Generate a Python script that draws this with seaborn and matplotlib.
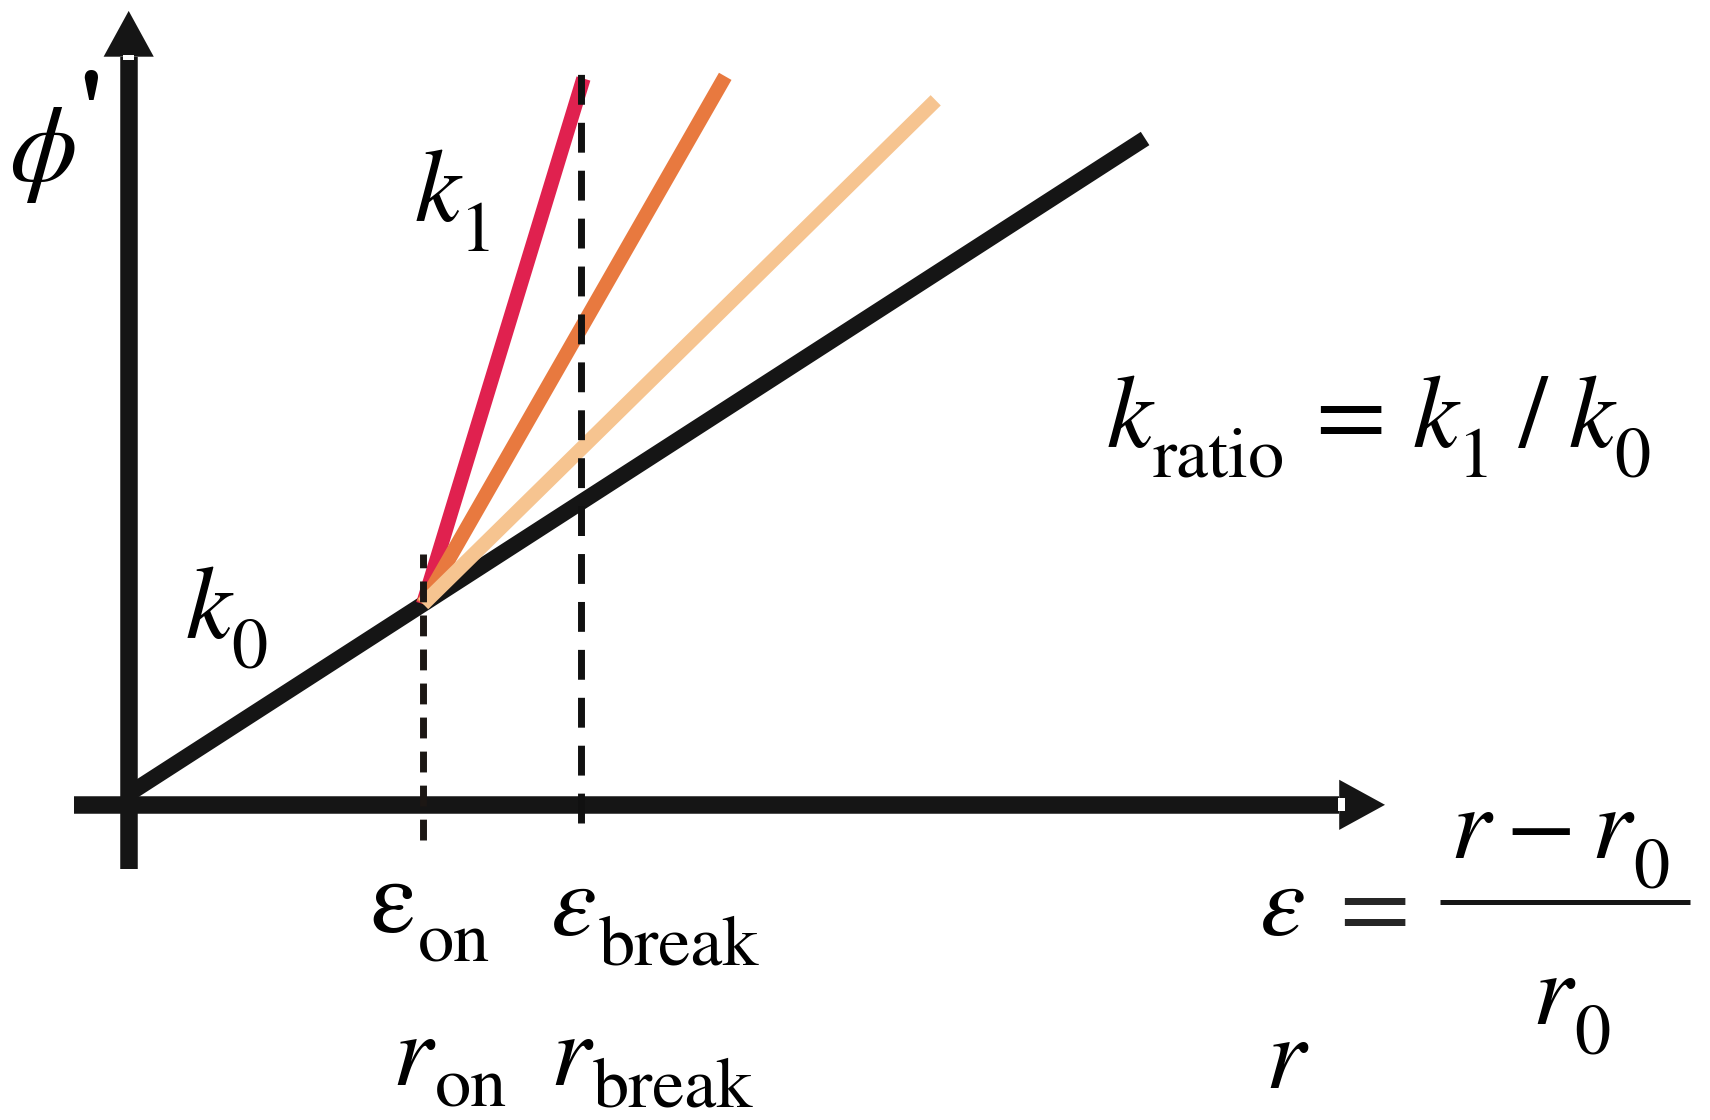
import numpy as np
import pandas as pd
import matplotlib
matplotlib.use("Agg")
import matplotlib.pyplot as plt
import seaborn as sns
from matplotlib.patches import Polygon, Rectangle

# Characteristic strains
eps_on = 2.70
eps_break = 4.15

# Baseline response with slope k0
base_x = [0.0, 9.32]
base_y = [0.10, 6.11]

# Stiffened branches (slope k1) leaving the baseline at eps_on
branch_names = ["high", "mid", "low"]
branch_end_x = [4.17, 5.47, 7.40]
branch_end_y = [6.66, 6.68, 6.46]
branch_colors = ["#e0214f", "#e8793f", "#f6c490"]

# Extent of the vertical guide lines
on_guide_y = [-0.32, 2.30]
break_guide_y = [-0.17, 6.70]

# Axis extents
x_axis = [-0.50, 11.52]
y_axis = [-0.59, 7.28]

INK = "#151515"
SERIF = "STIXGeneral"

sns.set_theme(style="white")
plt.rcParams["font.family"] = [SERIF, "DejaVu Serif"]

fig = plt.figure(figsize=(17.1, 11.2), dpi=100)
ax = fig.add_axes([0, 0, 1, 1])
ax.set_xlim(-1.18, 14.50)
ax.set_ylim(-2.89, 7.38)
ax.axis("off")
renderer = fig.canvas.get_renderer()

# --- axes with arrow heads ---
head_len = 0.42
head_half = 0.23
ax.plot([x_axis[0], x_axis[1] - head_len], [0, 0], color=INK, lw=12.6,
        solid_capstyle="butt", zorder=2)
ax.plot([0, 0], [y_axis[0], y_axis[1] - head_len], color=INK, lw=12.6,
        solid_capstyle="butt", zorder=2)
ax.add_patch(Polygon([[x_axis[1], 0], [x_axis[1] - head_len, head_half],
                      [x_axis[1] - head_len, -head_half]],
                     closed=True, color=INK, lw=0, zorder=2))
ax.add_patch(Polygon([[0, y_axis[1]], [-head_half, y_axis[1] - head_len],
                      [head_half, y_axis[1] - head_len]],
                     closed=True, color=INK, lw=0, zorder=2))
# small light notches where shaft meets head
ax.add_patch(Rectangle((x_axis[1] - head_len - 0.01, -0.06), 0.06, 0.12,
                       color="white", lw=0, zorder=3))
ax.add_patch(Rectangle((-0.05, y_axis[1] - head_len - 0.03), 0.10, 0.05,
                       color="white", lw=0, zorder=3))

# --- baseline k0 ---
base_df = pd.DataFrame({"strain": base_x, "phi": base_y, "branch": "k0"})
sns.lineplot(data=base_df, x="strain", y="phi", color=INK, lw=11.4,
             sort=False, estimator=None, legend=False, ax=ax,
             solid_capstyle="butt", zorder=4)

# --- stiffened branches ---
on_y = float(np.interp(eps_on, base_x, base_y))
rows = []
for name, ex, ey in zip(branch_names, branch_end_x, branch_end_y):
    rows.append({"strain": eps_on, "phi": on_y, "branch": name})
    rows.append({"strain": ex, "phi": ey, "branch": name})
branch_df = pd.DataFrame(rows)
for name, color in zip(branch_names, branch_colors):
    sns.lineplot(data=branch_df[branch_df["branch"] == name], x="strain",
                 y="phi", color=color, lw=10.4, sort=False, estimator=None,
                 legend=False, ax=ax, solid_capstyle="butt", zorder=5)

# --- dashed guides ---
ax.plot([eps_on, eps_on], on_guide_y, color="#1c1714", lw=5.0,
        dashes=(3.0, 1.9), zorder=6)
ax.plot([eps_break, eps_break], break_guide_y, color="#111111", lw=5.0,
        dashes=(4.3, 2.6), zorder=6)


# --- labels: pieces set one after another along a baseline ---
MAIN = 74
SUB = 52
DROP = 0.27


def chain(x, y, pieces):
    """pieces: (text, size, style, weight, dy, gap_before)"""
    inv = ax.transData.inverted()
    for txt, size, style, weight, dy, gap in pieces:
        x += gap
        t = ax.text(x, y + dy, txt, fontsize=size, fontstyle=style,
                    fontweight=weight, family=SERIF, ha="left",
                    va="baseline", color="black")
        bb = t.get_window_extent(renderer)
        x = inv.transform((bb.x1, bb.y0))[0]
    return x


def symbol(x, y, base, sub, style="italic", weight="normal", gap=0.0,
           drop=DROP):
    chain(x, y, [(base, MAIN, style, weight, 0.0, 0.0),
                 (sub, SUB, "normal", "normal", -drop, gap)])


chain(-1.10, 5.72, [("\u03d5", MAIN + 4, "italic", "normal", 0.0, 0.0),
                    ("'", MAIN, "normal", "bold", 0.36, 0.0)])
symbol(2.62, 5.35, "k", "1")
symbol(0.52, 1.53, "k", "0")
chain(8.97, 3.28, [("k", MAIN, "italic", "normal", 0.0, 0.0),
                   ("ratio", SUB, "normal", "normal", -DROP, 0.0),
                   ("=", MAIN, "normal", "normal", 0.0, 0.28),
                   ("k", MAIN, "italic", "normal", 0.0, 0.25),
                   ("1", SUB, "normal", "normal", -DROP, 0.0),
                   ("/", MAIN, "normal", "normal", 0.0, 0.22),
                   ("k", MAIN, "italic", "normal", 0.0, 0.20),
                   ("0", SUB, "normal", "normal", -DROP, 0.0)])

symbol(2.22, -1.17, "\u03b5", "on", style="normal", gap=0.02)
symbol(3.87, -1.19, "\u03b5", "break", gap=0.02)
symbol(2.42, -2.57, "r", "on", drop=0.20, gap=0.02)
symbol(3.87, -2.57, "r", "break", drop=0.20, gap=0.02)
chain(10.42, -2.60, [("r", MAIN, "italic", "normal", 0.0, 0.0)])

# strain definition
chain(10.37, -1.19, [("\u03b5", MAIN, "italic", "normal", 0.0, 0.0)])
ax.text(11.42, -0.90, "=", fontsize=MAIN, family=SERIF, ha="center",
        va="center_baseline")
ax.plot([12.02, 14.32], [-0.89, -0.89], color=INK, lw=3.6,
        solid_capstyle="butt")
chain(12.12, -0.49, [("r", MAIN, "italic", "normal", 0.0, 0.0),
                     ("\u2212", MAIN, "normal", "normal", 0.0, 0.14),
                     ("r", MAIN, "italic", "normal", 0.0, 0.14),
                     ("0", SUB, "normal", "normal", -DROP, 0.02)])
symbol(12.87, -2.01, "r", "0", gap=0.02)

fig.savefig("out.png", dpi=100)
